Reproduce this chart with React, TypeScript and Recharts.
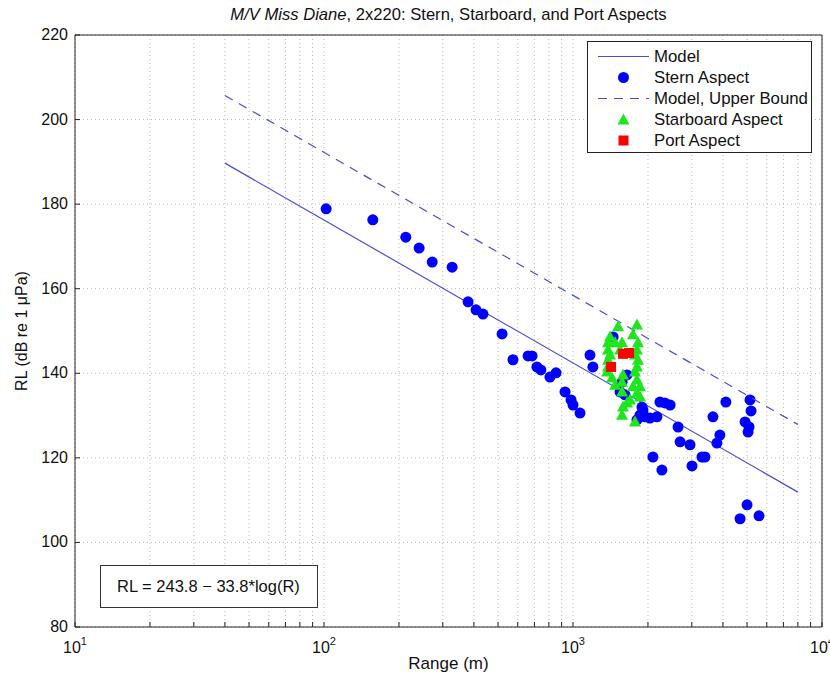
import React from "react";
import { CartesianGrid, Legend, Scatter, ScatterChart, XAxis, YAxis } from "recharts";

// Range (m) ticks: decades plus minor log ticks
const xTicks = [
  10, 20, 30, 40, 50, 60, 70, 80, 90,
  100, 200, 300, 400, 500, 600, 700, 800, 900,
  1000, 2000, 3000, 4000, 5000, 6000, 7000, 8000, 9000, 10000,
];
const decades = [10, 100, 1000, 10000];
const yTicks = [80, 100, 120, 140, 160, 180, 200, 220];

// RL = 243.8 - 33.8*log(R), end points of the drawn segment
const modelRange = [40, 8000];
const modelRL = [189.7, 111.9];
const upperRL = [205.7, 127.9];

const sternRange = [
  102, 157, 213, 241, 272, 327, 379, 408, 435, 519, 574, 660, 685, 716, 743, 808, 855, 929, 982, 1000,
  1067, 1170, 1202, 1449, 1574, 1545, 1648, 1618, 1910, 1945, 1807, 1892, 1858, 2037, 2173, 2234, 2339,
  2455, 2642, 2692, 2951, 2094, 2275, 3006, 3296, 3388, 3648, 4111, 3890, 3784, 5140, 5188, 4909, 5093,
  5047, 5000, 4688, 5585,
];
const sternRL = [
  178.9, 176.3, 172.2, 169.6, 166.3, 165.1, 156.9, 155.0, 154.0, 149.3, 143.2, 144.1, 144.1, 141.5, 140.8,
  139.1, 140.1, 135.6, 133.7, 132.5, 130.6, 144.3, 141.5, 148.6, 137.9, 135.6, 139.6, 134.9, 131.3, 129.7,
  129.0, 132.0, 130.1, 129.4, 129.7, 133.2, 133.0, 132.5, 127.3, 123.8, 123.1, 120.2, 117.1, 118.1, 120.2,
  120.2, 129.7, 133.2, 125.4, 123.5, 133.7, 131.1, 128.5, 127.3, 126.1, 108.9, 105.6, 106.3,
];

const starboardRange = [
  1517, 1807, 1409, 1383, 1476, 1574, 1742, 1824, 1383, 1545, 1807, 1409, 1774, 1383, 1824, 1383, 1807,
  1371, 1435, 1588, 1774, 1807, 1476, 1574, 1742, 1858, 1807, 1574, 1694, 1648, 1858, 1588, 1574, 1774,
];
const starboardRL = [
  151.0, 151.4, 148.6, 147.2, 147.2, 147.2, 149.1, 147.2, 145.5, 145.5, 145.5, 144.3, 144.3, 143.1, 143.1,
  141.5, 141.5, 140.3, 138.9, 139.6, 140.3, 138.4, 137.2, 137.9, 136.8, 136.8, 135.3, 135.6, 133.7, 133.0,
  134.4, 132.0, 130.1, 128.5,
];

const portRange = [1422, 1588, 1679];
const portRL = [141.5, 144.6, 144.8];

const zip = (xs: number[], ys: number[]) => xs.map((r, i) => ({ r, rl: ys[i] }));

const FONT = '"Liberation Sans", Arial, Helvetica, sans-serif';
const LINE_BLUE = "#4b4bd6";
const GRID = "#b8b8b8";

const BottomTick = ({ x, y, payload }: any) => {
  const v = payload.value;
  const isDecade = decades.includes(v);
  return (
    <g>
      <line x1={x} x2={x} y1={y} y2={y - 5} stroke="#222" />
      {isDecade && (
        <text x={x} y={y + 26} textAnchor="middle" fontSize={16} fontFamily={FONT} fill="#111">
          10
          <tspan dy={-8} fontSize={11}>
            {Math.round(Math.log10(v))}
          </tspan>
        </text>
      )}
    </g>
  );
};

const TopTick = ({ x, y }: any) => <line x1={x} x2={x} y1={y} y2={y + 5} stroke="#222" />;

const LeftTick = ({ x, y, payload }: any) => (
  <g>
    <line x1={x} x2={x + 5} y1={y} y2={y} stroke="#222" />
    <text x={x - 7} y={y} dy={5} textAnchor="end" fontSize={16} fontFamily={FONT} fill="#111">
      {payload.value}
    </text>
  </g>
);

const RightTick = ({ x, y }: any) => <line x1={x} x2={x - 5} y1={y} y2={y} stroke="#222" />;

const Circle = ({ cx, cy }: any) => <circle cx={cx} cy={cy} r={5.5} fill="#0000ff" />;
const Triangle = ({ cx, cy }: any) => (
  <polygon points={`${cx},${cy - 6.5} ${cx - 6},${cy + 4.5} ${cx + 6},${cy + 4.5}`} fill="#1ee61e" />
);
const Square = ({ cx, cy }: any) => <rect x={cx - 5} y={cy - 5} width={10} height={10} fill="#ff0000" />;
const NoMark = () => <g />;

const legendRows = [
  { label: "Model", kind: "line" },
  { label: "Stern Aspect", kind: "circle" },
  { label: "Model, Upper Bound", kind: "dash" },
  { label: "Starboard Aspect", kind: "triangle" },
  { label: "Port Aspect", kind: "square" },
];

const LegendBox = () => (
  <div
    style={{
      width: 225,
      height: 112,
      border: "1px solid #222",
      background: "#fff",
      fontFamily: FONT,
      fontSize: 16.8,
      color: "#111",
      boxSizing: "border-box",
      paddingTop: 4,
    }}
  >
    {legendRows.map((row) => (
      <div key={row.label} style={{ display: "flex", alignItems: "center", height: 21, lineHeight: "21px" }}>
        <svg width={66} height={21} style={{ flex: "none" }}>
          {row.kind === "line" && <line x1={10} x2={61} y1={10.5} y2={10.5} stroke={LINE_BLUE} strokeWidth={1.2} />}
          {row.kind === "dash" && (
            <line x1={10} x2={61} y1={10.5} y2={10.5} stroke={LINE_BLUE} strokeWidth={1.2} strokeDasharray="9 7" />
          )}
          {row.kind === "circle" && <Circle cx={35.5} cy={10.5} />}
          {row.kind === "triangle" && <Triangle cx={35.5} cy={11} />}
          {row.kind === "square" && <Square cx={35.5} cy={10.5} />}
        </svg>
        <span>{row.label}</span>
      </div>
    ))}
  </div>
);

export default function App() {
  return (
    <div style={{ position: "absolute", left: 0, top: 0, width: 830, height: 679, background: "#fff", fontFamily: FONT }}>
      <div
        style={{ position: "absolute", left: 75, width: 747, top: 5, textAlign: "center", fontSize: 16.6, color: "#111" }}
      >
        <i>M/V Miss Diane</i>, 2x220: Stern, Starboard, and Port Aspects
      </div>

      <ScatterChart width={830} height={679} margin={{ top: 34, right: 4, bottom: 22, left: 15 }}>
        <CartesianGrid stroke={GRID} strokeDasharray="1 3" />
        <XAxis
          dataKey="r"
          type="number"
          scale="log"
          domain={[10, 10000]}
          ticks={xTicks}
          interval={0}
          allowDataOverflow
          height={30}
          tickSize={0}
          tickMargin={0}
          tickLine={false}
          axisLine={{ stroke: "#222" }}
          tick={<BottomTick />}
        />
        <XAxis
          xAxisId="top"
          orientation="top"
          type="number"
          scale="log"
          domain={[10, 10000]}
          ticks={xTicks}
          interval={0}
          allowDataOverflow
          height={1}
          tickSize={0}
          tickMargin={0}
          tickLine={false}
          axisLine={{ stroke: "#222" }}
          tick={<TopTick />}
        />
        <YAxis
          dataKey="rl"
          type="number"
          domain={[80, 220]}
          ticks={yTicks}
          interval={0}
          allowDataOverflow
          width={60}
          tickSize={0}
          tickMargin={0}
          tickLine={false}
          axisLine={{ stroke: "#222" }}
          tick={<LeftTick />}
        />
        <YAxis
          yAxisId="right"
          orientation="right"
          type="number"
          domain={[80, 220]}
          ticks={yTicks}
          interval={0}
          width={4}
          tickSize={0}
          tickMargin={0}
          tickLine={false}
          axisLine={{ stroke: "#222" }}
          tick={<RightTick />}
        />
        <Scatter
          name="Model"
          data={zip(modelRange, modelRL)}
          line={{ stroke: LINE_BLUE, strokeWidth: 1.2 }}
          shape={<NoMark />}
          isAnimationActive={false}
        />
        <Scatter name="Stern Aspect" data={zip(sternRange, sternRL)} shape={<Circle />} isAnimationActive={false} />
        <Scatter
          name="Model, Upper Bound"
          data={zip(modelRange, upperRL)}
          line={{ stroke: LINE_BLUE, strokeWidth: 1.2, strokeDasharray: "9 7" }}
          shape={<NoMark />}
          isAnimationActive={false}
        />
        <Scatter
          name="Starboard Aspect"
          data={zip(starboardRange, starboardRL)}
          shape={<Triangle />}
          isAnimationActive={false}
        />
        <Scatter name="Port Aspect" data={zip(portRange, portRL)} shape={<Square />} isAnimationActive={false} />
        <Legend
          layout="horizontal"
          verticalAlign="middle"
          align="center"
          content={<LegendBox />}
          wrapperStyle={{ left: 587, top: 41, width: 225, height: 112 }}
        />
      </ScatterChart>

      <div
        style={{
          position: "absolute",
          left: 100,
          top: 565,
          width: 218,
          height: 43,
          border: "1px solid #333",
          boxSizing: "border-box",
          background: "#fff",
          fontSize: 16.5,
          color: "#111",
          lineHeight: "41px",
          paddingLeft: 16,
        }}
      >
        RL = 243.8 − 33.8*log(R)
      </div>

      <div style={{ position: "absolute", left: 75, width: 747, top: 654, textAlign: "center", fontSize: 17, color: "#111" }}>
        Range (m)
      </div>

      <div
        style={{
          position: "absolute",
          left: 22,
          top: 331,
          transform: "translate(-50%, -50%) rotate(-90deg)",
          whiteSpace: "nowrap",
          fontSize: 16,
          color: "#111",
        }}
      >
        RL (dB re 1 μPa)
      </div>
    </div>
  );
}
